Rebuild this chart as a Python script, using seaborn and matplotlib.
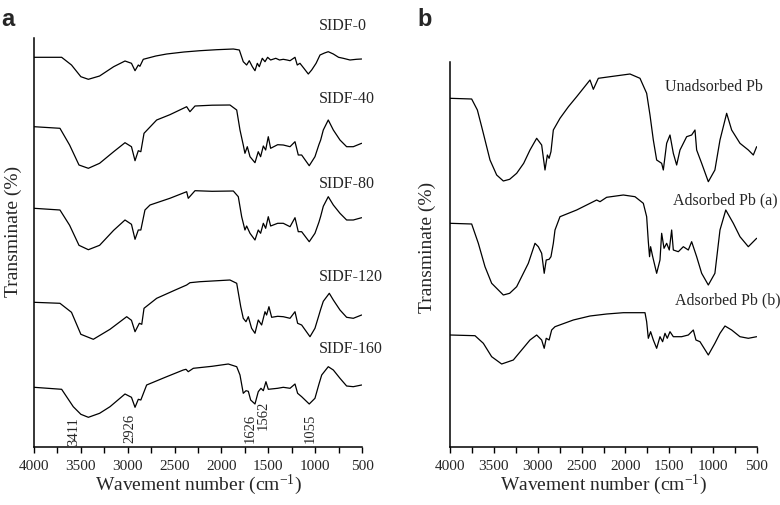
import numpy as np
import matplotlib
matplotlib.use("Agg")
import matplotlib.pyplot as plt
from matplotlib.ticker import MultipleLocator
import seaborn as sns

# ---- panel a : SIDF spectra (wavenumber, transmittance relative to 4000 cm-1 level) ----
wn_0 = [4000, 3705, 3600, 3500, 3420, 3300, 3150, 3029, 2960, 2922, 2887, 2870, 2834, 2700, 2584,
        2400, 2229, 2050, 1873, 1809, 1767, 1731, 1703, 1670, 1642, 1617, 1596, 1564, 1535, 1507,
        1475, 1420, 1380, 1340, 1300, 1268, 1215, 1191, 1162, 1120, 1073, 1037, 990, 948, 900,
        860, 806, 750, 700, 628, 560, 504]
t_0 = [0, 0, -7.7, -19.4, -22, -18.7, -9.4, -3.7, -6, -13.4, -7.7, -9, -2, 1.3, 3.3,
       5.3, 6.6, 7.6, 8.3, 7.3, -4.4, -7.7, -3.4, -9.4, -13.4, -6, -9.4, -1, -4.4, 0,
       -2.7, -1, -2.7, -2, -2.7, -3.4, 0, -7.7, -6, -11, -16.7, -12.7, -6, 2.3, 4.3,
       5.6, 3.3, 0, -1, -2.7, -2, -1.7]

wn_40 = [4000, 3723, 3620, 3520, 3420, 3300, 3150, 3029, 2960, 2922, 2887, 2860, 2826, 2691, 2550,
         2371, 2336, 2282, 2100, 1909, 1837, 1802, 1767, 1749, 1724, 1695, 1642, 1607, 1582, 1553,
         1528, 1500, 1475, 1400, 1340, 1268, 1215, 1180, 1144, 1063, 1002, 960, 941, 913, 860,
         806, 735, 664, 593, 504]
t_40 = [0, -1.6, -18.3, -38.3, -41.6, -36.6, -25, -16, -20, -34, -24, -25, -6.6, 6.7, 12,
        20, 15, 20.7, 21.5, 21.7, 16.7, -3.3, -18.3, -26.6, -20, -30, -36, -25, -30, -19.3,
        -23.3, -10, -21.6, -18, -18.3, -20, -15, -28.3, -28.3, -39, -30, -18, -13.3, -3.3, 6.7,
        -3.3, -13.3, -20, -20, -16.6]

wn_80 = [4000, 3723, 3620, 3520, 3420, 3300, 3150, 3029, 2960, 2922, 2887, 2860, 2816, 2762, 2550,
         2371, 2354, 2282, 2100, 1873, 1820, 1784, 1749, 1731, 1695, 1642, 1607, 1582, 1553, 1528,
         1500, 1475, 1400, 1340, 1268, 1215, 1180, 1144, 1063, 1002, 960, 941, 913, 860, 806,
         735, 664, 593, 504]
t_80 = [0, -1.7, -17, -37, -41.4, -37, -22, -11.7, -16, -31, -21.7, -21.7, -1.7, 3.3, 10,
        16.6, 10, 17.6, 17, 17.3, 11.6, -8.4, -21.7, -17.7, -25, -31.7, -21.7, -25, -15, -20,
        -8.4, -17.7, -15, -15, -18.4, -9.4, -23.4, -23.4, -33.4, -25, -14, -8, 2, 11.6, 3.3,
        -5, -11.7, -11.7, -9.4]

wn_120 = [4000, 3723, 3600, 3500, 3367, 3189, 3011, 2960, 2922, 2876, 2850, 2826, 2691, 2500, 2371,
          2336, 2229, 1909, 1837, 1794, 1767, 1738, 1713, 1678, 1642, 1607, 1571, 1535, 1518, 1493,
          1464, 1400, 1340, 1268, 1215, 1187, 1144, 1055, 1002, 960, 941, 913, 849, 806, 735,
          664, 593, 504]
t_120 = [0, -1, -10, -32, -37, -27, -14.4, -18, -29.4, -21, -22, -6, 4, 12, 17.3,
         19.6, 20.6, 22.3, 19, -4.4, -16, -19.4, -14.4, -26, -31, -17.7, -22.7, -9.4, -12.7, -4.4,
         -15, -14, -14.4, -16, -9.4, -21, -22.7, -34.4, -26, -13, -7, 1, 9, 2.3, -7.7,
         -15, -16, -12.7]

wn_160 = [4000, 3705, 3581, 3500, 3420, 3300, 3189, 3029, 2960, 2922, 2887, 2860, 2798, 2600, 2407,
          2378, 2354, 2300, 2100, 1927, 1837, 1802, 1767, 1738, 1713, 1688, 1642, 1607, 1578, 1553,
          1525, 1500, 1400, 1340, 1268, 1215, 1187, 1144, 1063, 1002, 960, 930, 860, 806, 735,
          664, 593, 504]
t_160 = [0, -2, -19.4, -27, -30, -26, -19.4, -6.7, -10, -20, -12, -12.7, 2.3, 10, 17.3,
         18, 15.6, 19, 21, 23.3, 20.6, 12.3, -6, -3.4, -4, -12.7, -16.7, -4.4, -1, -3.4,
         5.6, -2, -1, 0, -1, 3.3, -6, -9.4, -16.7, -11, 3, 12.3, 20.6, 17.3, 9,
         1.3, 0.6, 2.3]

names_a = ["SIDF-0", "SIDF-40", "SIDF-80", "SIDF-120", "SIDF-160"]
offsets_a = [389.7, 320.3, 238.7, 144.7, 59.7]
label_pos_a = [(955, 421), (955, 348), (955, 263), (955, 170), (955, 98)]
peak_labels = ["3411", "2926", "1626", "1562", "1055"]
peak_pos = [(3580, 0.5), (2976, 4), (1695, 4), (1553, 17), (1055, 4)]

# ---- panel b : Pb adsorption spectra ----
wn_un = [4000, 3753, 3688, 3639, 3620, 3544, 3468, 3392, 3320, 3240, 3160, 3088, 3012, 2955, 2917,
         2890, 2870, 2849, 2822, 2785, 2746, 2650, 2556, 2404, 2366, 2309, 2176, 1948, 1834, 1758,
         1720, 1682, 1644, 1587, 1568, 1530, 1492, 1454, 1416, 1378, 1302, 1245, 1207, 1188, 1131,
         1055, 980, 922, 865, 846, 789, 694, 599, 542, 504]
t_un = [0, -0.7, -11.7, -28.4, -35, -61.7, -76.7, -82.7, -81, -75, -65, -51.7, -40, -46.7, -71.7,
        -56.7, -60, -53.4, -31.7, -26, -20, -8.4, 1.6, 18.3, 9, 20, 21.6, 24.3, 20, 5,
        -16.7, -41.7, -61.7, -65, -71.7, -45, -36.7, -55, -66.7, -51.7, -38.4, -36.7, -31.7, -51.7, -65,
        -83.4, -71.7, -41.7, -21.7, -15, -31.7, -45, -51.7, -56.7, -48.4]

wn_ada = [4000, 3753, 3677, 3601, 3525, 3392, 3320, 3240, 3107, 3031, 2993, 2955, 2926, 2903, 2870,
          2849, 2822, 2803, 2746, 2556, 2328, 2290, 2214, 2024, 1891, 1796, 1758, 1739, 1725, 1713,
          1690, 1644, 1606, 1587, 1560, 1530, 1500, 1473, 1454, 1397, 1340, 1283, 1245, 1220, 1188,
          1131, 1055, 980, 922, 856, 770, 694, 599, 504]
t_ada = [0, -0.7, -20, -43.4, -60, -71.7, -70, -63.4, -40, -20, -23.4, -30, -50, -36.7, -36,
         -33.4, -20, -6.7, 6.6, 13.3, 23.3, 21.6, 26, 28.3, 26.6, 20, 6.6, -18.4, -33.4, -23.4,
         -33, -50, -36.7, -10, -25, -20, -26.7, -6.7, -26.7, -28.4, -23.4, -26.7, -18.4, -25, -33.4,
         -50, -61.7, -50, -6.7, 13.3, 0, -13.4, -23.4, -15]

wn_adb = [4000, 3715, 3620, 3525, 3411, 3278, 3088, 3012, 2955, 2926, 2903, 2870, 2841, 2803, 2594,
          2404, 2214, 2024, 1777, 1758, 1739, 1713, 1682, 1644, 1606, 1576, 1549, 1523, 1492, 1454,
          1359, 1283, 1226, 1196, 1150, 1055, 980, 922, 865, 789, 694, 599, 504]
t_adb = [0, -0.7, -8.3, -21.7, -29, -25, -5, 0, -5, -13.3, -3.3, -5, 5, 8.3, 15,
         19, 21, 22.3, 22.3, 13.3, -3.3, 3.3, -5, -13.3, -1.7, -6.7, 1.7, -3.3, 3.3, -1.7,
         -1.7, 0, 5, -5, -6.7, -20, -8.3, 1.7, 9, 5, -1.7, -3.3, -1.7]

names_b = ["Unadsorbed Pb", "Adsorbed Pb (a)", "Adsorbed Pb (b)"]
offsets_b = [348.7, 223.7, 112]
label_pos_b = [(1549, 360), (1458, 247), (1435, 147)]

sns.set_theme(style="ticks")
plt.rcParams["font.family"] = ["Liberation Serif", "DejaVu Serif"]
plt.rcParams["mathtext.fontset"] = "custom"
plt.rcParams["mathtext.rm"] = "Liberation Serif"
plt.rcParams["mathtext.it"] = "Liberation Serif:italic"

fig = plt.figure(figsize=(7.8, 5.05), dpi=100)
ax_a = fig.add_axes([34 / 780, 58 / 505, 328 / 780, 409 / 505])
ax_b = fig.add_axes([450 / 780, 58 / 505, 307 / 780, 385 / 505])


def style_axis(ax, ymax):
    ax.set_xlim(4000, 500)
    ax.set_ylim(0, ymax)
    ax.xaxis.set_major_locator(MultipleLocator(500))
    ax.xaxis.set_minor_locator(MultipleLocator(250))
    ax.set_yticks([])
    ax.tick_params(axis="x", which="both", direction="out", length=4, width=1,
                   color="black", labelsize=11, pad=5)
    for side in ["top", "right"]:
        ax.spines[side].set_visible(False)
    for side in ["left", "bottom"]:
        ax.spines[side].set_linewidth(1.1)
        ax.spines[side].set_color("black")
    ax.set_xlabel("Wavement number (cm$^{\\mathregular{-1}}$)", fontsize=14, labelpad=0)
    ax.set_ylabel("Transminate (%)", fontsize=14, va="center")
    ax.set_facecolor("white")


curves_a = [(wn_0, t_0), (wn_40, t_40), (wn_80, t_80), (wn_120, t_120), (wn_160, t_160)]
for (wn, t), off, name, pos in zip(curves_a, offsets_a, names_a, label_pos_a):
    sns.lineplot(x=np.array(wn), y=np.array(t) + off, ax=ax_a, color="black",
                 linewidth=0.9, sort=False, estimator=None)
    ax_a.text(pos[0], pos[1], name, fontsize=11.5, ha="left", va="center", clip_on=False)

for lab, pos in zip(peak_labels, peak_pos):
    ax_a.text(pos[0], pos[1], lab, rotation=90, fontsize=10.5, ha="center", va="bottom")

curves_b = [(wn_un, t_un), (wn_ada, t_ada), (wn_adb, t_adb)]
for (wn, t), off, name, pos in zip(curves_b, offsets_b, names_b, label_pos_b):
    sns.lineplot(x=np.array(wn), y=np.array(t) + off, ax=ax_b, color="black",
                 linewidth=0.9, sort=False, estimator=None)
    ax_b.text(pos[0], pos[1], name, fontsize=11.5, ha="left", va="center", clip_on=False)

style_axis(ax_a, 409)
style_axis(ax_b, 385)
ax_a.yaxis.set_label_coords(-0.064, 0.526)
ax_b.yaxis.set_label_coords(-0.075, 0.519)

fig.text(8 / 780, 1 - 20 / 505, "a", fontsize=17, fontweight="bold",
         family="Liberation Sans", ha="center", va="center")
fig.text(425 / 780, 1 - 19 / 505, "b", fontsize=17, fontweight="bold",
         family="Liberation Sans", ha="center", va="center")

fig.savefig("out.png", dpi=100, facecolor="white")
